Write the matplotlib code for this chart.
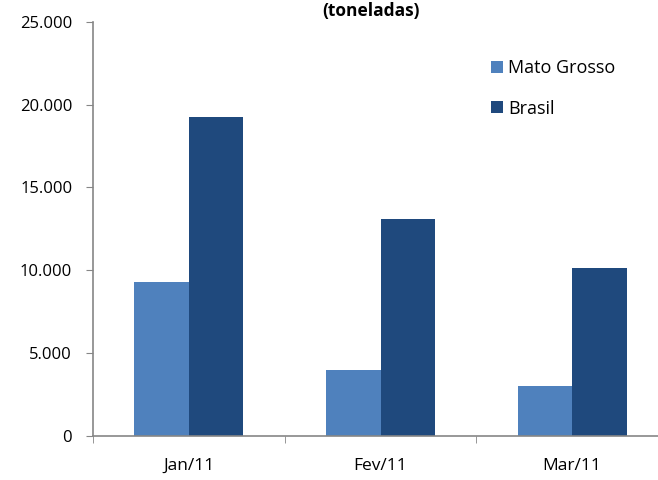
import matplotlib
matplotlib.use("Agg")
import matplotlib.pyplot as plt
import numpy as np
from matplotlib.ticker import FixedLocator, FuncFormatter

# Dados (toneladas)
meses = ["Jan/11", "Fev/11", "Mar/11"]
mato_grosso = [9270, 3950, 3000]
brasil = [19250, 13080, 10130]
y_ticks = [0, 5000, 10000, 15000, 20000, 25000]

cor_mt = "#4F81BD"
cor_br = "#1F497D"
cor_eixo = "#868686"

plt.rcParams["font.family"] = ["Open Sans", "DejaVu Sans"]

fig = plt.figure(figsize=(6.58, 4.80), dpi=100)
ax = fig.add_axes([93 / 658, 44.5 / 480, 575 / 658, 413.5 / 480])

x = np.arange(len(meses))
largura = 0.285
ax.bar(x - largura / 2, mato_grosso, largura, color=cor_mt, label="Mato Grosso")
ax.bar(x + largura / 2, brasil, largura, color=cor_br, label="Brasil")

ax.set_xlim(-0.5, len(meses) - 0.5)
ax.set_ylim(0, 25000)

ax.set_yticks(y_ticks)
ax.yaxis.set_major_formatter(FuncFormatter(lambda v, p: f"{int(v):,}".replace(",", ".")))

# rótulos no centro, marcas nas divisões das categorias
ax.set_xticks(x)
ax.set_xticklabels(meses)
ax.xaxis.set_minor_locator(FixedLocator(np.arange(-0.5, len(meses), 1.0)))
ax.tick_params(axis="x", which="major", length=0, pad=16, labelsize=12.5)
ax.tick_params(axis="x", which="minor", length=5, color=cor_eixo, direction="out")
ax.tick_params(axis="y", length=5, color=cor_eixo, labelsize=12, pad=10)

for lado in ["top", "right"]:
    ax.spines[lado].set_visible(False)
for lado in ["left", "bottom"]:
    ax.spines[lado].set_color(cor_eixo)
    ax.spines[lado].set_linewidth(1.2)

ax.legend(
    loc="upper left",
    bbox_to_anchor=(484 / 658, 1 - 52 / 480),
    bbox_transform=fig.transFigure,
    frameon=False,
    fontsize=13,
    handlelength=0.65,
    handleheight=0.65,
    handletextpad=0.3,
    labelspacing=1.25,
    borderaxespad=0,
)

fig.text(371 / 658, 1 - 11 / 480, "(toneladas)", ha="center", va="center",
         fontsize=12.5, fontweight="bold")

fig.savefig("out.png", dpi=100)
